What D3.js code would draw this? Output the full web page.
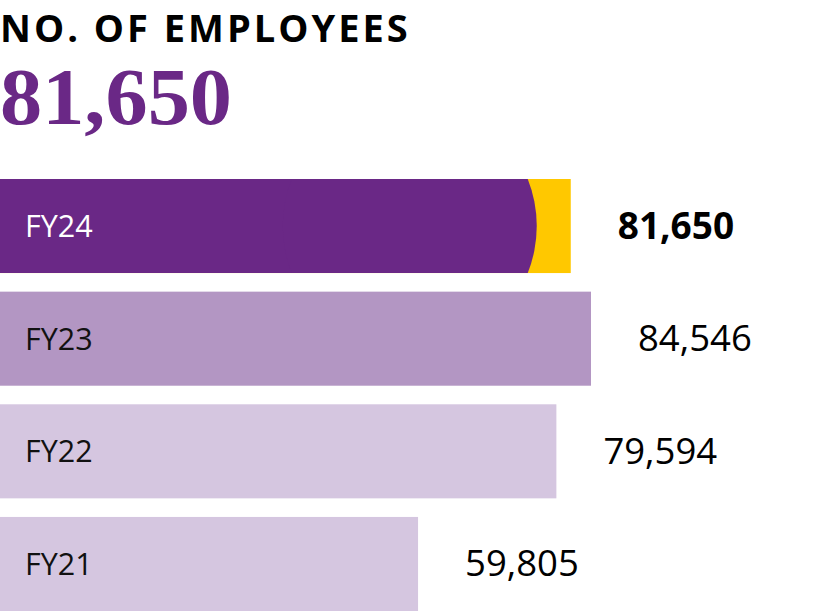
<!DOCTYPE html>
<html>
<head>
<meta charset="utf-8">
<script src="https://cdn.jsdelivr.net/npm/d3@7"></script>
<style>
  html, body { margin: 0; padding: 0; background: #fff; }
  svg { display: block; }
</style>
</head>
<body>
<div id="chart"></div>
<script>
const title = "NO. OF EMPLOYEES";
const headline = "81,650";
const categories = ["FY24", "FY23", "FY22", "FY21"];
const values = [81650, 84546, 79594, 59805];
const highlight = "FY24";

const W = 838, H = 611;
const svg = d3.select("#chart").append("svg").attr("width", W).attr("height", H);

const colors = { FY24: "#6a2886", FY23: "#b396c3", FY22: "#d5c6e0", FY21: "#d5c6e0" };
const capColor = "#ffc800";

svg.append("text")
  .attr("x", 0).attr("y", 42)
  .attr("font-family", "Open Sans")
  .attr("font-weight", 700)
  .attr("font-size", 38)
  .attr("letter-spacing", 3.0)
  .attr("fill", "#000")
  .text(title);

svg.append("text")
  .attr("x", 0).attr("y", 124)
  .attr("font-family", "Liberation Serif")
  .attr("font-weight", 700)
  .attr("font-size", 80)
  .attr("textLength", 232)
  .attr("lengthAdjust", "spacingAndGlyphs")
  .attr("fill", "#6a2886")
  .text(headline);

const x = d3.scaleLinear().domain([0, 84546]).range([0, 591]);
const y = d3.scaleBand().domain(categories).range([179, 611]).paddingInner(0.165).paddingOuter(0);

const defs = svg.append("defs");

const g = svg.append("g");
categories.forEach((c, i) => {
  const v = values[i];
  const y0 = y(c), bh = y.bandwidth(), w = x(v);
  if (c === highlight) {
    g.append("rect").attr("x", 0).attr("y", y0).attr("width", w).attr("height", bh).attr("fill", capColor);
    defs.append("clipPath").attr("id", "clip-" + c)
      .append("rect").attr("x", 0).attr("y", y0).attr("width", w).attr("height", bh);
    const r = 127, maxX = w - 34;
    const gc = g.append("g").attr("clip-path", "url(#clip-" + c + ")");
    gc.append("rect").attr("x", 0).attr("y", y0).attr("width", maxX - r).attr("height", bh).attr("fill", colors[c]);
    gc.append("circle").attr("cx", maxX - r).attr("cy", y0 + bh / 2).attr("r", r).attr("fill", colors[c]);
  } else {
    g.append("rect").attr("x", 0).attr("y", y0).attr("width", w).attr("height", bh).attr("fill", colors[c]);
  }
  g.append("text")
    .attr("x", 25).attr("y", y0 + bh / 2 + 11)
    .attr("font-family", "Open Sans")
    .attr("font-size", 30.5)
    .attr("fill", c === highlight ? "#fff" : "#111")
    .text(c);
  g.append("text")
    .attr("x", w + 47).attr("y", y0 + bh / 2 + 12.5)
    .attr("font-family", "Open Sans")
    .attr("font-weight", c === highlight ? 700 : 400)
    .attr("font-size", c === highlight ? 37 : 36.5)
    .attr("fill", "#000")
    .text(d3.format(",")(v));
});
</script>
</body>
</html>
